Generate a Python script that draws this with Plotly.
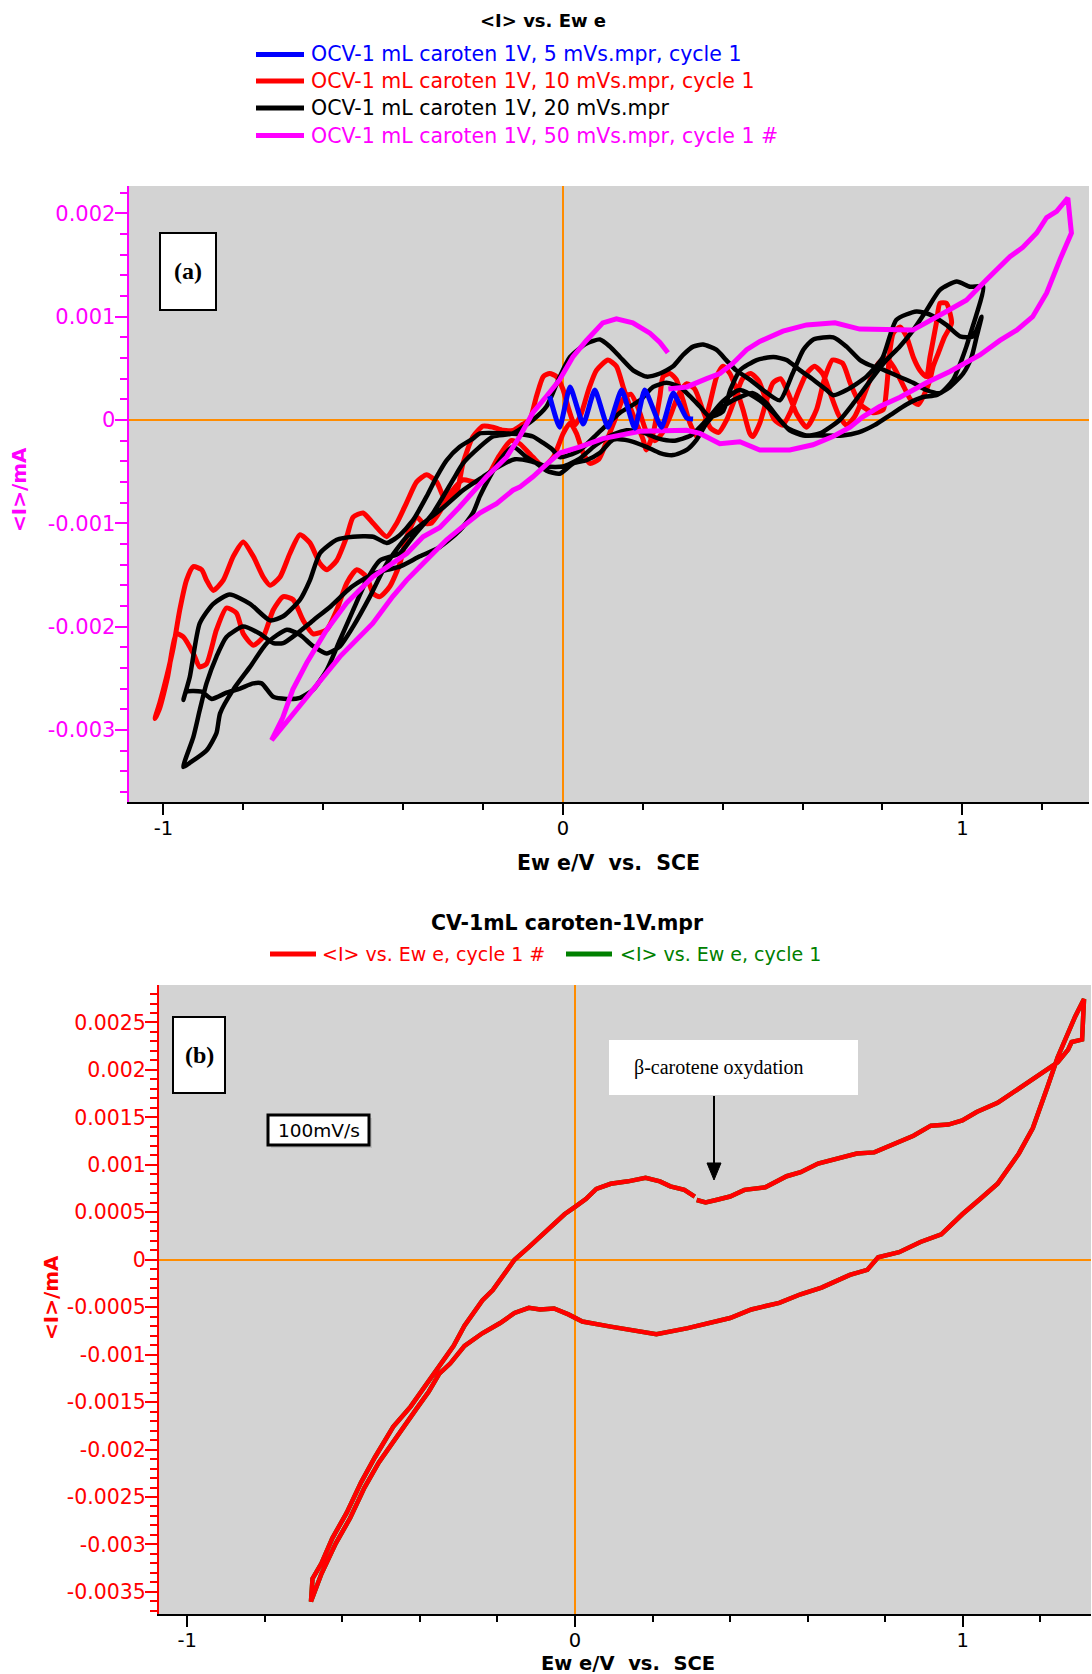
import plotly.graph_objects as go

W, H = 1092, 1674

# ---------------- panel (a) data: Ewe (V) vs <I> (mA) ----------------
blue_v = [-0.033, -0.008, 0.018, 0.051, 0.080, 0.113, 0.147, 0.180, 0.205, 0.247, 0.276, 0.310, 0.326]
blue_i = [0.00023, -0.00007, 0.00032, -0.00004, 0.00029, -0.00007, 0.00029, -0.00008, 0.00029, -0.00007, 0.00026, 0.00002, 0.00001]

red_v = [-1.021, -1.009, -0.992, -0.975, -0.959, -0.942, -0.925, -0.904, -0.892, -0.875, -0.850, -0.825, -0.800,
         -0.775, -0.750, -0.733, -0.708, -0.683, -0.658, -0.633, -0.608, -0.591, -0.566, -0.541, -0.525, -0.500,
         -0.475, -0.441, -0.416, -0.391, -0.366, -0.341, -0.316, -0.291, -0.266, -0.250, -0.225, -0.200, -0.175,
         -0.150, -0.125, -0.100, -0.083, -0.066, -0.049, -0.033, -0.016, 0.000, 0.015, 0.030, 0.045, 0.065, 0.084,
         0.113, 0.134, 0.151, 0.168, 0.184, 0.201, 0.209, 0.226, 0.243, 0.251, 0.268, 0.284, 0.301, 0.318, 0.335,
         0.351, 0.368, 0.385, 0.401, 0.418, 0.435, 0.451, 0.468, 0.476, 0.493, 0.510, 0.526, 0.545, 0.565, 0.585,
         0.610, 0.635, 0.655, 0.675, 0.700, 0.720, 0.745, 0.777, 0.802, 0.810, 0.819, 0.827, 0.844, 0.860, 0.877,
         0.894, 0.910, 0.919, 0.935, 0.944, 0.960, 0.973,
         0.955, 0.940, 0.927, 0.919, 0.905, 0.890, 0.870, 0.850, 0.830, 0.810, 0.790, 0.770, 0.750, 0.730, 0.710,
         0.690, 0.670, 0.650, 0.630, 0.610, 0.590, 0.570, 0.550, 0.530, 0.510, 0.490, 0.470, 0.450, 0.430, 0.410,
         0.390, 0.370, 0.350, 0.330, 0.310, 0.290, 0.270, 0.250, 0.230, 0.210, 0.190, 0.170, 0.150, 0.130, 0.110,
         0.090, 0.068, 0.051, 0.034, 0.018, 0.001, -0.024, -0.049, -0.075, -0.108, -0.130, -0.160, -0.190, -0.220,
         -0.250, -0.280, -0.310, -0.330, -0.349, -0.366, -0.391, -0.408, -0.433, -0.458, -0.475, -0.491, -0.516,
         -0.541, -0.566, -0.591, -0.625, -0.650, -0.675, -0.700, -0.725, -0.750, -0.775, -0.800, -0.817, -0.842,
         -0.867, -0.892, -0.909, -0.925, -0.950, -0.967, -0.990, -1.010, -1.021]
red_i = [-0.00289, -0.00274, -0.00249, -0.00220, -0.00184, -0.00155, -0.00142, -0.00145, -0.00155, -0.00165, -0.00155,
         -0.00132, -0.00118, -0.00132, -0.00152, -0.00160, -0.00152, -0.00129, -0.00111, -0.00119, -0.00139, -0.00145,
         -0.00136, -0.00113, -0.00094, -0.00090, -0.00100, -0.00113, -0.00100, -0.00080, -0.00060, -0.00053, -0.00060,
         -0.00080, -0.00070, -0.00042, -0.00016, -0.00006, -0.00007, -0.00010, -0.00010, -0.00004, 0.00000, 0.00023,
         0.00042, 0.00045, 0.00042, 0.00030, 0.00010, -0.00005, 0.00005, 0.00030, 0.00048, 0.00058, 0.00052, 0.00032,
         0.00013, -0.00003, -0.00019, -0.00029, -0.00013, 0.00023, 0.00042, 0.00045, 0.00039, 0.00019, -0.00003,
         -0.00016, -0.00007, 0.00016, 0.00042, 0.00052, 0.00045, 0.00029, 0.00010, -0.00013, -0.00016, -0.00003,
         0.00019, 0.00036, 0.00040, 0.00025, 0.00006, -0.00007, 0.00010, 0.00040, 0.00058, 0.00055, 0.00035, 0.00015,
         0.00007, 0.00010, 0.00029, 0.00068, 0.00084, 0.00090, 0.00081, 0.00061, 0.00048, 0.00042, 0.00061, 0.00094,
         0.00113, 0.00113, 0.00094,
         0.00080, 0.00065, 0.00052, 0.00039, 0.00025, 0.00015, 0.00020, 0.00035, 0.00050, 0.00060, 0.00055, 0.00040,
         0.00020, 0.00003, -0.00005, 0.00005, 0.00025, 0.00045, 0.00052, 0.00045, 0.00028, 0.00008, -0.00005, 0.00000,
         0.00018, 0.00038, 0.00045, 0.00040, 0.00020, 0.00000, -0.00012, -0.00008, 0.00010, 0.00030, 0.00035, 0.00025,
         0.00005, -0.00012, -0.00020, -0.00012, 0.00010, 0.00025, 0.00020, 0.00000, -0.00020, -0.00038, -0.00042,
         -0.00032, -0.00013, -0.00003, -0.00013, -0.00036, -0.00045, -0.00036, -0.00023, -0.00020, -0.00035, -0.00055,
         -0.00060, -0.00058, -0.00070, -0.00090, -0.00100, -0.00100, -0.00094, -0.00113, -0.00139, -0.00161, -0.00171,
         -0.00168, -0.00152, -0.00145, -0.00158, -0.00184, -0.00203, -0.00207, -0.00194, -0.00174, -0.00171, -0.00184,
         -0.00210, -0.00218, -0.00207, -0.00187, -0.00182, -0.00203, -0.00236, -0.00239, -0.00226, -0.00210, -0.00207,
         -0.00250, -0.00280, -0.00289]

black_v = [-0.950, -0.925, -0.909, -0.892, -0.867, -0.842, -0.800, -0.758, -0.725, -0.700, -0.666, -0.625, -0.580,
           -0.530, -0.480, -0.440, -0.408, -0.358, -0.308, -0.258, -0.225, -0.208, -0.183, -0.158, -0.125, -0.091,
           -0.066, -0.041, -0.008, 0.026, 0.059, 0.092, 0.126, 0.165, 0.209, 0.243, 0.276, 0.310, 0.335, 0.360,
           0.393, 0.426, 0.476, 0.510, 0.535, 0.560, 0.610, 0.643, 0.693, 0.727, 0.777, 0.810, 0.843, 0.877, 0.910,
           0.944, 0.986, 1.019, 1.052,
           1.036, 1.023, 1.010, 0.998, 0.977, 0.944, 0.910, 0.877, 0.835, 0.800, 0.769, 0.744, 0.710, 0.677, 0.627,
           0.602, 0.575, 0.543, 0.501, 0.468, 0.434, 0.409, 0.384, 0.351, 0.326, 0.301, 0.276, 0.243, 0.209, 0.176,
           0.143, 0.118, 0.093, 0.059, 0.018, -0.010, -0.041, -0.075, -0.125, -0.175, -0.208, -0.250, -0.275, -0.325,
           -0.375, -0.408, -0.458, -0.491, -0.525, -0.558, -0.591, -0.625, -0.658, -0.692, -0.725, -0.754, -0.775,
           -0.808, -0.842, -0.879, -0.905, -0.942, -0.950,
           -0.934, -0.909, -0.875, -0.834, -0.783, -0.733, -0.700, -0.658, -0.633, -0.608, -0.566, -0.525, -0.475,
           -0.441, -0.410, -0.375, -0.341, -0.316, -0.291, -0.258, -0.225, -0.208, -0.141, -0.100, -0.075, -0.050,
           -0.025, -0.008, 0.040, 0.090, 0.143, 0.193, 0.226, 0.259, 0.293, 0.318, 0.343, 0.368, 0.400, 0.420, 0.443,
           0.485, 0.527, 0.560, 0.594, 0.627, 0.660, 0.677, 0.710, 0.760, 0.800, 0.835, 0.885, 0.919, 0.960, 0.994,
           1.027, 1.048,
           1.036, 1.023, 1.002, 0.969, 0.935, 0.900, 0.860, 0.820, 0.780, 0.740, 0.700, 0.643, 0.602, 0.568, 0.527,
           0.493, 0.443, 0.400, 0.360, 0.320, 0.280, 0.240, 0.200, 0.160, 0.120, 0.080, 0.040, 0.000, -0.040, -0.080,
           -0.120, -0.160, -0.200, -0.250, -0.300, -0.350, -0.391, -0.441, -0.483, -0.525, -0.558, -0.591, -0.625,
           -0.658, -0.691, -0.741, -0.783, -0.825, -0.858, -0.867, -0.892, -0.934, -0.950]
black_i = [-0.00336, -0.00307, -0.00281, -0.00255, -0.00229, -0.00210, -0.00200, -0.00207, -0.00216, -0.00216,
           -0.00207, -0.00194, -0.00180, -0.00162, -0.00150, -0.00145, -0.00142, -0.00132, -0.00123, -0.00107,
           -0.00090, -0.00074, -0.00055, -0.00039, -0.00026, -0.00036, -0.00042, -0.00049, -0.00052, -0.00042,
           -0.00039, -0.00032, -0.00019, -0.00020, -0.00026, -0.00032, -0.00034, -0.00029, -0.00019, -0.00003,
           0.00010, 0.00019, 0.00026, 0.00016, 0.00004, -0.00007, -0.00015, -0.00013, 0.00000, 0.00016, 0.00042,
           0.00058, 0.00071, 0.00087, 0.00106, 0.00126, 0.00134, 0.00129, 0.00129,
           0.00103, 0.00087, 0.00071, 0.00058, 0.00039, 0.00026, 0.00029, 0.00036, 0.00043, 0.00049, 0.00053, 0.00058,
           0.00071, 0.00080, 0.00078, 0.00068, 0.00045, 0.00019, 0.00029, 0.00039, 0.00048, 0.00058, 0.00068, 0.00073,
           0.00071, 0.00063, 0.00052, 0.00045, 0.00042, 0.00048, 0.00061, 0.00071, 0.00078, 0.00074, 0.00061, 0.00040,
           0.00013, 0.00000, -0.00013, -0.00016, -0.00026, -0.00042, -0.00058, -0.00090, -0.00113, -0.00129, -0.00136,
           -0.00155, -0.00184, -0.00213, -0.00242, -0.00261, -0.00269, -0.00270, -0.00268, -0.00255, -0.00255,
           -0.00260, -0.00264, -0.00270, -0.00263, -0.00263, -0.00271,
           -0.00249, -0.00197, -0.00178, -0.00169, -0.00178, -0.00194, -0.00190, -0.00174, -0.00155, -0.00129,
           -0.00116, -0.00113, -0.00113, -0.00119, -0.00112, -0.00097, -0.00074, -0.00055, -0.00039, -0.00026,
           -0.00018, -0.00013, -0.00013, -0.00014, -0.00016, -0.00022, -0.00029, -0.00036, -0.00030, -0.00012,
           0.00007, 0.00019, 0.00032, 0.00036, 0.00032, 0.00023, 0.00013, 0.00003, 0.00008, 0.00030, 0.00048,
           0.00058, 0.00061, 0.00058, 0.00048, 0.00039, 0.00029, 0.00024, 0.00029, 0.00042, 0.00060, 0.00097,
           0.00105, 0.00102, 0.00092, 0.00081, 0.00081, 0.00100,
           0.00081, 0.00061, 0.00045, 0.00032, 0.00024, 0.00022, 0.00015, 0.00005, -0.00005, -0.00012, -0.00015,
           -0.00015, -0.00015, -0.00010, 0.00007, 0.00019, 0.00029, 0.00018, 0.00000, -0.00015, -0.00020, -0.00018,
           -0.00012, -0.00010, -0.00015, -0.00025, -0.00038, -0.00045, -0.00045, -0.00040, -0.00038, -0.00045,
           -0.00055, -0.00068, -0.00085, -0.00100, -0.00113, -0.00139, -0.00171, -0.00200, -0.00219, -0.00226,
           -0.00219, -0.00208, -0.00203, -0.00216, -0.00239, -0.00261, -0.00284, -0.00303, -0.00320, -0.00332,
           -0.00336]

mag_v = [0.264, 0.310, 0.360, 0.393, 0.426, 0.460, 0.493, 0.551, 0.610, 0.681, 0.743, 0.810, 0.876, 0.960, 1.010,
         1.061, 1.094, 1.119, 1.151, 1.186, 1.211, 1.236, 1.264, 1.273, 1.244, 1.211, 1.176, 1.136, 1.094, 1.044,
         0.969, 0.910, 0.844, 0.793, 0.751, 0.719, 0.676, 0.626, 0.568, 0.493, 0.443, 0.393, 0.343, 0.310, 0.193,
         0.100, 0.043, -0.008, -0.041, -0.075, -0.108, -0.125, -0.166, -0.208, -0.250, -0.291, -0.350, -0.391,
         -0.426, -0.476, -0.558, -0.626, -0.683, -0.726, -0.729, -0.701, -0.676, -0.641, -0.591, -0.541, -0.476,
         -0.390, -0.350, -0.308, -0.258, -0.191, -0.141, -0.108, -0.075, -0.041, -0.008, 0.025, 0.059, 0.100,
         0.134, 0.175, 0.218, 0.243, 0.263]
mag_i = [0.00030, 0.00032, 0.00040, 0.00045, 0.00055, 0.00068, 0.00076, 0.00086, 0.00092, 0.00094, 0.00088, 0.00087,
         0.00087, 0.00105, 0.00116, 0.00136, 0.00148, 0.00158, 0.00167, 0.00181, 0.00196, 0.00202, 0.00215, 0.00181,
         0.00155, 0.00123, 0.00100, 0.00087, 0.00077, 0.00063, 0.00047, 0.00036, 0.00022, 0.00013, 0.00003,
         -0.00007, -0.00016, -0.00024, -0.00029, -0.00029, -0.00021, -0.00023, -0.00013, -0.00010, -0.00011,
         -0.00018, -0.00026, -0.00032, -0.00043, -0.00055, -0.00065, -0.00068, -0.00081, -0.00090, -0.00103,
         -0.00116, -0.00139, -0.00155, -0.00171, -0.00197, -0.00229, -0.00261, -0.00288, -0.00307, -0.00310,
         -0.00288, -0.00261, -0.00235, -0.00203, -0.00177, -0.00152, -0.00129, -0.00113, -0.00104, -0.00084,
         -0.00055, -0.00036, -0.00016, 0.00007, 0.00023, 0.00039, 0.00061, 0.00077, 0.00094, 0.00098, 0.00094,
         0.00084, 0.00075, 0.00065]

a_legend = ["OCV-1 mL caroten 1V, 5 mVs.mpr, cycle 1",
            "OCV-1 mL caroten 1V, 10 mVs.mpr, cycle 1",
            "OCV-1 mL caroten 1V, 20 mVs.mpr",
            "OCV-1 mL caroten 1V, 50 mVs.mpr, cycle 1 #"]
a_ytick_vals = [-0.003, -0.002, -0.001, 0, 0.001, 0.002]
a_ytick_text = ["-0.003", "-0.002", "-0.001", "0", "0.001", "0.002"]

# ---------------- panel (b) data ----------------
b_v = [0.314, 0.337, 0.364, 0.400, 0.437, 0.491, 0.546, 0.582, 0.627, 0.682, 0.727, 0.772, 0.818, 0.873, 0.918,
       0.963, 0.999, 1.036, 1.090, 1.145, 1.200, 1.245, 1.272, 1.281, 1.308, 1.313, 1.290, 1.272, 1.245, 1.218,
       1.181, 1.145, 1.090, 1.045, 0.999, 0.945, 0.891, 0.836, 0.782, 0.754, 0.709, 0.636, 0.582, 0.527, 0.455,
       0.400, 0.364, 0.291, 0.210, 0.164, 0.092, 0.019, -0.017, -0.054, -0.090, -0.119, -0.156, -0.193, -0.239,
       -0.285, -0.322, -0.350, -0.377, -0.405, -0.433, -0.469, -0.506, -0.543, -0.580, -0.617, -0.654, -0.681,
       -0.677, -0.654, -0.626, -0.589, -0.552, -0.516, -0.469, -0.424, -0.377, -0.350, -0.313, -0.285, -0.267,
       -0.239, -0.212, -0.184, -0.156, -0.119, -0.090, -0.063, -0.027, 0.001, 0.028, 0.055, 0.092, 0.137, 0.182,
       0.219, 0.246, 0.282, 0.309]
b_i = [0.000629, 0.000603, 0.000629, 0.000666, 0.000736, 0.000763, 0.000880, 0.000922, 0.001014, 0.001066,
       0.001120, 0.001131, 0.001216, 0.001307, 0.001413, 0.001424, 0.001467, 0.001557, 0.001653, 0.001803,
       0.001947, 0.002080, 0.002214, 0.002294, 0.002320, 0.002747, 0.002561, 0.002400, 0.002134, 0.001813,
       0.001387, 0.001120, 0.000800, 0.000640, 0.000479, 0.000267, 0.000187, 0.000079, 0.000026, -0.000107,
       -0.000160, -0.000294, -0.000364, -0.000454, -0.000524, -0.000614, -0.000651, -0.000721, -0.000785,
       -0.000758, -0.000705, -0.000651, -0.000576, -0.000513, -0.000524, -0.000507, -0.000561, -0.000667,
       -0.000775, -0.000907, -0.001094, -0.001201, -0.001388, -0.001548, -0.001708, -0.001921, -0.002135,
       -0.002401, -0.002722, -0.002988, -0.003309, -0.003602, -0.003361, -0.003201, -0.002935, -0.002668,
       -0.002348, -0.002081, -0.001761, -0.001548, -0.001281, -0.001121, -0.000907, -0.000694, -0.000587,
       -0.000428, -0.000320, -0.000160, 0.000000, 0.000133, 0.000240, 0.000347, 0.000479, 0.000560, 0.000640,
       0.000746, 0.000800, 0.000826, 0.000864, 0.000826, 0.000773, 0.000736, 0.000666]
b_legend = ["&lt;I&gt; vs. Ew e, cycle 1 #", "&lt;I&gt; vs. Ew e, cycle 1"]
b_ytick_vals = [-0.0035, -0.003, -0.0025, -0.002, -0.0015, -0.001, -0.0005, 0, 0.0005, 0.001, 0.0015, 0.002, 0.0025]
b_ytick_text = ["-0.0035", "-0.003", "-0.0025", "-0.002", "-0.0015", "-0.001", "-0.0005", "0", "0.0005",
                "0.001", "0.0015", "0.002", "0.0025"]
x_tick_vals = [-1, 0, 1]
x_tick_text = ["-1", "0", "1"]

# ---------------- helpers (pixel -> paper) ----------------
def px(x):
    return x / W

def py(y):
    return 1 - y / H

MAG = "#ff00ff"
RED = "#ff0000"
BLUE = "#0000ff"
GREEN = "#008000"
ORANGE = "#ff8c00"
SANS = "DejaVu Sans"
SERIF = "Liberation Serif"

fig = go.Figure()
fig.add_trace(go.Scatter(x=red_v, y=red_i, mode="lines",
                         line=dict(color=RED, width=5, shape="spline", smoothing=0.6), xaxis="x", yaxis="y",
                         name=a_legend[1]))
fig.add_trace(go.Scatter(x=black_v, y=black_i, mode="lines",
                         line=dict(color="black", width=4.5, shape="spline", smoothing=0.6), xaxis="x",
                         yaxis="y", name=a_legend[2]))
fig.add_trace(go.Scatter(x=mag_v, y=mag_i, mode="lines", line=dict(color=MAG, width=5), xaxis="x", yaxis="y",
                         name=a_legend[3]))
fig.add_trace(go.Scatter(x=blue_v, y=blue_i, mode="lines",
                         line=dict(color=BLUE, width=5, shape="spline", smoothing=0.5), xaxis="x", yaxis="y",
                         name=a_legend[0]))
fig.add_trace(go.Scatter(x=b_v, y=b_i, mode="lines", line=dict(color=GREEN, width=4.5), xaxis="x2", yaxis="y2",
                         name=b_legend[1]))
fig.add_trace(go.Scatter(x=b_v, y=b_i, mode="lines", line=dict(color=RED, width=4.5), xaxis="x2", yaxis="y2",
                         name=b_legend[0]))


def xaxis_style(domain, rng, anchor, label_font):
    return dict(domain=domain, range=rng, anchor=anchor, showgrid=False, zeroline=True, zerolinecolor=ORANGE,
                zerolinewidth=2, showline=True, linecolor="black", linewidth=2, ticks="outside", ticklen=11,
                tickwidth=2, tickcolor="black", tickmode="array", tickvals=x_tick_vals, ticktext=x_tick_text,
                tickfont=label_font, ticklabelstandoff=-3,
                minor=dict(tickmode="linear", tick0=0, dtick=0.2, ticks="outside", ticklen=6, tickwidth=2,
                           tickcolor="black", showgrid=False))


def yaxis_style(domain, rng, anchor, color, vals, text, mdt, label_font):
    return dict(domain=domain, range=rng, anchor=anchor, showgrid=False, zeroline=True, zerolinecolor=ORANGE,
                zerolinewidth=2, showline=True, linecolor=color, linewidth=2, ticks="outside", ticklen=12,
                tickwidth=2, tickcolor=color, tickmode="array", tickvals=vals, ticktext=text, tickfont=label_font,
                ticklabelstandoff=-5,
                minor=dict(tickmode="linear", tick0=0, dtick=mdt, ticks="outside", ticklen=7, tickwidth=2,
                           tickcolor=color, showgrid=False))


fig.update_layout(
    width=W, height=H, margin=dict(l=0, r=0, t=0, b=0), paper_bgcolor="white", plot_bgcolor="#d3d3d3",
    showlegend=False,
    xaxis=xaxis_style([px(128.6), px(1089)], [-1.087, 1.317], "y", dict(family=SANS, size=19.5, color="black")),
    yaxis=yaxis_style([py(802), py(186)], [-0.003698, 0.002265], "x", MAG, a_ytick_vals, a_ytick_text, 0.0002,
                      dict(family=SANS, size=21, color=MAG)),
    xaxis2=xaxis_style([px(159), px(1091)], [-1.073, 1.331], "y2", dict(family=SANS, size=19.5, color="black")),
    yaxis2=yaxis_style([py(1614), py(985)], [-0.003733, 0.002895], "x2", RED, b_ytick_vals, b_ytick_text, 0.0001,
                       dict(family=SANS, size=20.5, color=RED)),
)

shapes = []
annotations = []


def label(x, y, text, font, xanchor="center", yanchor="middle", angle=0):
    annotations.append(dict(x=px(x), y=py(y), xref="paper", yref="paper", text=text, showarrow=False,
                            xanchor=xanchor, yanchor=yanchor, textangle=angle, font=font,
                            borderpad=0, borderwidth=0))


# ---- panel (a) header + legend ----
label(543, 20, "<b>&lt;I&gt; vs. Ew e</b>", dict(family=SANS, size=18, color="black"))
leg_colors = [BLUE, RED, "black", MAG]
leg_y = [54.5, 81, 108, 135.5]
for txt, col, yy in zip(a_legend, leg_colors, leg_y):
    shapes.append(dict(type="line", xref="paper", yref="paper", x0=px(256), x1=px(304), y0=py(yy), y1=py(yy),
                       line=dict(color=col, width=5)))
    label(311, yy, txt, dict(family=SANS, size=20.5, color=col), xanchor="left")

# axis titles (a)
label(608, 863, "<b>Ew e/V  vs.  SCE</b>", dict(family=SANS, size=20.5, color="black"))
label(19, 490, "<b>&lt;I&gt;/mA</b>", dict(family=SANS, size=20, color=MAG), angle=-90)

# (a) label box
shapes.append(dict(type="rect", xref="paper", yref="paper", x0=px(160), x1=px(216), y0=py(310), y1=py(233),
                   line=dict(color="black", width=2), fillcolor="white"))
label(188, 271, "<b>(a)</b>", dict(family=SERIF, size=24, color="black"))

# ---- panel (b) header + legend ----
label(567, 923, "<b>CV-1mL caroten-1V.mpr</b>", dict(family=SANS, size=20.5, color="black"))
b_cols = [RED, GREEN]
b_line_x = [(270, 316), (566, 612)]
b_text_x = [322, 620]
for txt, col, (l0, l1), tx in zip(b_legend, b_cols, b_line_x, b_text_x):
    shapes.append(dict(type="line", xref="paper", yref="paper", x0=px(l0), x1=px(l1), y0=py(954), y1=py(954),
                       line=dict(color=col, width=5)))
    label(tx, 954, txt, dict(family=SANS, size=19, color=col), xanchor="left")

label(628, 1663, "<b>Ew e/V  vs.  SCE</b>", dict(family=SANS, size=19.5, color="black"))
label(51, 1298, "<b>&lt;I&gt;/mA</b>", dict(family=SANS, size=20, color=RED), angle=-90)

# (b) label box
shapes.append(dict(type="rect", xref="paper", yref="paper", x0=px(173), x1=px(225), y0=py(1093), y1=py(1017),
                   line=dict(color="black", width=2), fillcolor="white"))
label(199, 1055, "<b>(b)</b>", dict(family=SERIF, size=24, color="black"))

# 100mV/s box (with faint shadow)
shapes.append(dict(type="rect", xref="paper", yref="paper", x0=px(271), x1=px(372), y0=py(1148), y1=py(1118),
                   line=dict(width=0), fillcolor="#bdbdbd"))
shapes.append(dict(type="rect", xref="paper", yref="paper", x0=px(268), x1=px(369), y0=py(1145), y1=py(1115),
                   line=dict(color="black", width=3), fillcolor="white"))
label(318.5, 1130, "100mV/s", dict(family=SANS, size=18.5, color="black"))

# beta-carotene oxydation label
shapes.append(dict(type="rect", xref="paper", yref="paper", x0=px(609), x1=px(858), y0=py(1095), y1=py(1040),
                   line=dict(width=0), fillcolor="white"))
label(634, 1067, "\u03b2-carotene oxydation", dict(family=SERIF, size=20, color="black"), xanchor="left")
# arrow
shapes.append(dict(type="line", xref="paper", yref="paper", x0=px(714), x1=px(714), y0=py(1096), y1=py(1166),
                   line=dict(color="black", width=2)))
shapes.append(dict(type="path", xref="paper", yref="paper",
                   path="M {:.5f},{:.5f} L {:.5f},{:.5f} L {:.5f},{:.5f} Z".format(
                       px(707), py(1163), px(721), py(1163), px(714), py(1180)),
                   fillcolor="black", line=dict(color="black", width=1)))

fig.update_layout(shapes=shapes, annotations=annotations)
fig.write_html("out.html")
